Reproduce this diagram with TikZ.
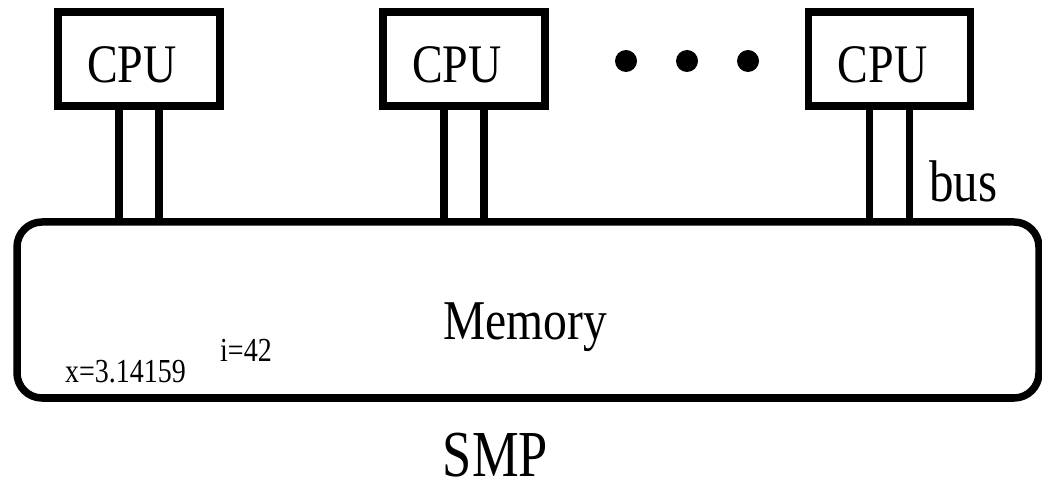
\documentclass[tikz,border=0pt]{standalone}
\usepackage{fontspec}
\setmainfont{Liberation Serif}
\usepackage{graphicx}
\usepackage{tikz}
\usetikzlibrary{positioning,calc}
\newcommand{\tallsize}[2]{\fontsize{#1}{#1}\selectfont\scalebox{1}[1.2]{#2}}

\begin{document}
\begin{tikzpicture}[x=1pt,y=-1pt,
    thick line/.style={line width=7.5pt},
    cpubox/.style={draw,thick line,rectangle,outer sep=0pt,minimum width=162pt,minimum height=94pt,
      text height=48pt,text depth=0pt,font=\fontsize{46}{46}\selectfont},
    membox/.style={draw,thick line,rectangle,rounded corners=25pt,outer sep=0pt,minimum width=1022pt,
      minimum height=176pt,text height=60pt,text depth=0pt,font=\fontsize{47.6}{47.6}\selectfont},
    busline/.style={thick line}]
  \useasboundingbox (0,0) rectangle (1042,486);
  % processors
  \node[cpubox] (cpu1) at (139,59) {\hspace*{-14pt}\scalebox{1}[1.18]{CPU}};
  \node[cpubox] (cpu2) at (464,59) {\hspace*{-14pt}\scalebox{1}[1.18]{CPU}};
  \node[cpubox] (cpu3) at (889.5,59) {\hspace*{-14pt}\scalebox{1}[1.18]{CPU}};
  \foreach \x in {626,687,748} \fill (\x,61) circle (11pt);
  % shared memory
  \node[membox] (mem) at (528,310) {\hspace*{-6pt}\scalebox{1}[1.18]{Memory}};
  \foreach \c in {cpu1,cpu2,cpu3} \foreach \d in {-20,20}
    \draw[busline] ([xshift=\d pt]\c.south) -- ([xshift=\d pt]\c.south |- mem.north);
  \node[anchor=base west,inner sep=0pt] (buslbl) at (929,202) {\tallsize{49}{bus}};
  \node[anchor=base west,inner sep=0pt] (xval) at (65,382) {\tallsize{28}{x=3.14159}};
  \node[anchor=base west,inner sep=0pt] (ival) at (220,362) {\tallsize{28}{i=42}};
  \node[anchor=base,inner sep=0pt] (title) at (495.5,476) {\fontsize{52.5}{52.5}\selectfont\scalebox{1}[1.25]{SMP}};
\end{tikzpicture}
\end{document}
